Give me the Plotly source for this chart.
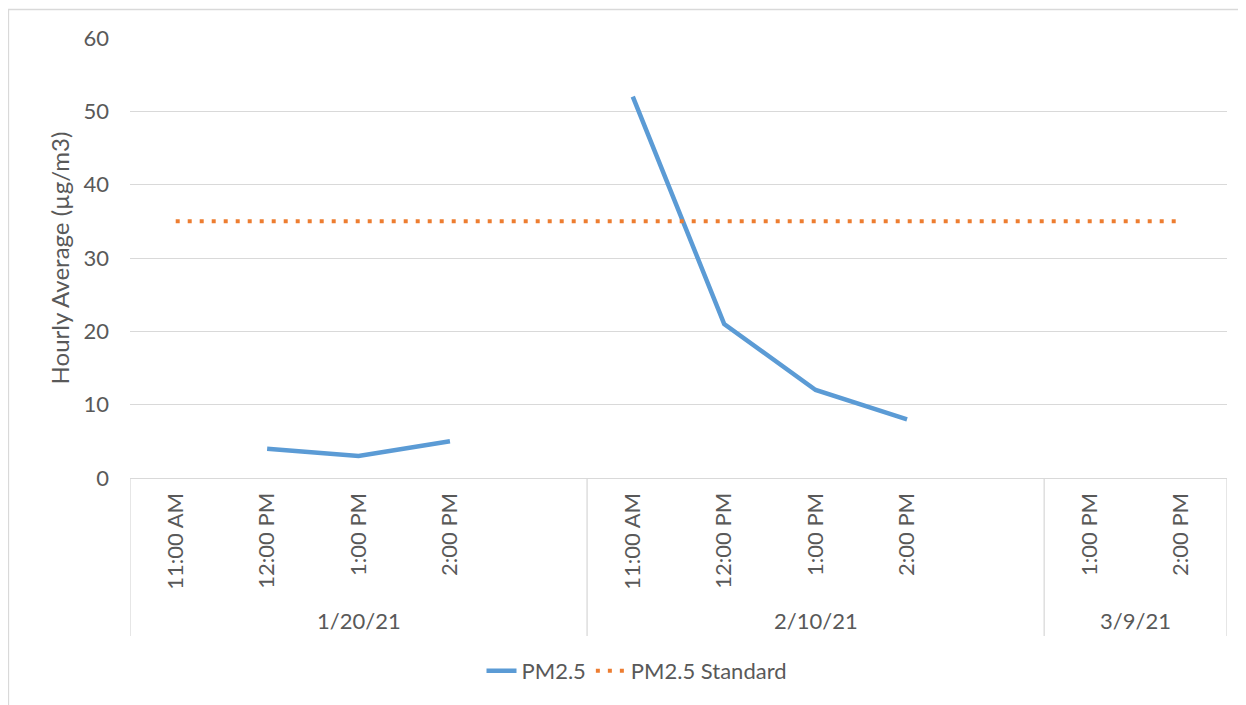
import plotly.graph_objects as go

# categories (Excel-style two-level axis, blank slot closes each day)
dates = ["1/20/21", "2/10/21", "3/9/21"]
times = [
    ["11:00 AM", "12:00 PM", "1:00 PM", "2:00 PM", ""],
    ["11:00 AM", "12:00 PM", "1:00 PM", "2:00 PM", ""],
    ["1:00 PM", "2:00 PM"],
]
pm25 = [None, 4, 3, 5, None, 52, 21, 12, 8, None, None, None]
pm25_standard = [35] * 12

TEXT = "#595959"
GRID = "#D9D9D9"
FONT = "Lato"

# the page body adds an 8px margin, so the figure is laid out in screen px minus 8
OFF = 8
W, H = 1246 - OFF, 705 - OFF
L, R, T, B = 130 - OFF, 19, 38 - OFF, 227
PW, PH = W - L - R, H - T - B


def px_x(x):
    # screen pixel -> paper x
    return (x - OFF - L) / PW


def px_y(y):
    # screen pixel -> paper y
    return (H - B - (y - OFF)) / PH


tick_text = [t for group in times for t in group]
tick_vals = list(range(len(tick_text)))

fig = go.Figure()
fig.add_trace(go.Scatter(
    x=tick_vals, y=pm25, mode="lines", name="PM2.5",
    line=dict(color="#5B9BD5", width=4.5),
))
fig.add_trace(go.Scatter(
    x=tick_vals, y=pm25_standard, mode="lines", name="PM2.5 Standard",
    line=dict(color="#ED7D31", width=4, dash="4px,8px"),
))

# group dividers and group labels
shapes = []
annotations = []
start = 0
bounds = [-0.5]
for d, group in zip(dates, times):
    end = start + len(group)
    bounds.append(end - 0.5)
    annotations.append(dict(
        x=(start + end - 1) / 2, y=px_y(620), xref="x", yref="paper",
        xanchor="center", yanchor="middle",
        text=d, showarrow=False, font=dict(family=FONT, size=22, color=TEXT),
    ))
    start = end
for b in bounds:
    shapes.append(dict(
        type="line", xref="x", yref="paper", x0=b, x1=b,
        y0=0, y1=px_y(636), line=dict(color=GRID, width=1.3),
    ))

# chart-area border
shapes.append(dict(
    type="rect", xref="paper", yref="paper",
    x0=px_x(8.5), x1=px_x(1300), y0=px_y(760), y1=px_y(9.5),
    line=dict(color=GRID, width=1.3), layer="below",
))

fig.update_layout(
    width=W, height=H,
    margin=dict(l=L, r=R, t=T, b=B, autoexpand=False),
    paper_bgcolor="white", plot_bgcolor="white",
    font=dict(family=FONT, size=22, color=TEXT),
    showlegend=True,
    legend=dict(
        orientation="h", x=px_x(637), xanchor="center",
        y=px_y(671), yanchor="middle",
        font=dict(family=FONT, size=22, color=TEXT),
        itemwidth=30,
    ),
    shapes=shapes,
    annotations=annotations,
)
fig.update_xaxes(
    range=[-0.5, len(tick_text) - 0.5],
    tickvals=tick_vals, ticktext=tick_text, tickangle=-90,
    ticks="", ticklabelstandoff=5,
    showgrid=False, zeroline=False,
    showline=True, linecolor=GRID, linewidth=1.3,
)
fig.update_yaxes(
    range=[0, 60], dtick=10,
    showgrid=True, gridcolor=GRID, gridwidth=1.3,
    zeroline=False, showline=False, ticks="", ticklabelstandoff=20,
    title=dict(text="Hourly Average (µg/m3)", standoff=7,
               font=dict(family=FONT, size=24, color=TEXT)),
)

fig.write_html("out.html")
